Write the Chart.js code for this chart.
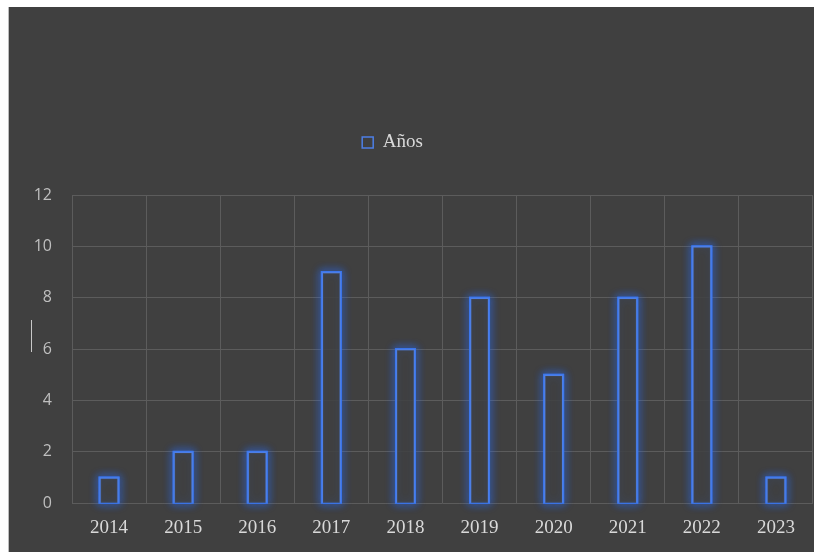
<!DOCTYPE html>
<html>
<head>
<meta charset="utf-8">
<script src="https://cdn.jsdelivr.net/npm/chart.js@4"></script>
<style>
  html, body { margin: 0; padding: 0; background: #ffffff; }
  #frame {
    position: absolute; left: 8px; top: 7px; width: 806px; height: 545px;
    background: #404040; border-left: 1px solid #bdbdbd; box-sizing: border-box;
  }
  #wrap { position: absolute; left: 1px; top: 0; width: 805px; height: 545px; }
  #caret { position: absolute; left: 22px; top: 313px; width: 1px; height: 32px; background: #c8c8c8; }
</style>
</head>
<body>
<div id="frame">
  <div id="wrap"><canvas id="chart"></canvas></div>
  <div id="caret"></div>
</div>
<script>
const years = ['2014', '2015', '2016', '2017', '2018', '2019', '2020', '2021', '2022', '2023'];
const counts = [1, 2, 2, 9, 6, 8, 5, 8, 10, 1];
const seriesName = 'Años';

// soft blue glow around the bar outlines (bar elements clip to themselves,
// so stroke a blurred outline from each element's own geometry first)
const glow = {
    id: 'glow',
    beforeDatasetDraw(chart, args) {
        const ctx = chart.ctx;
        ctx.save();
        ctx.shadowColor = 'rgba(40, 110, 255, 1)';
        ctx.shadowBlur = 8;
        ctx.strokeStyle = 'rgba(60, 120, 240, 0.9)';
        ctx.lineWidth = 2;
        args.meta.data.forEach((bar) => {
            const p = bar.getProps(['x', 'y', 'base', 'width'], true);
            const top = Math.min(p.y, p.base);
            const h = Math.abs(p.base - p.y);
            ctx.strokeRect(p.x - p.width / 2, top, p.width, h);
            ctx.strokeRect(p.x - p.width / 2, top, p.width, h);
        });
        ctx.restore();
    }
};

// extra room under the legend, and nudge it a bit left like the original
const legendSpace = {
    id: 'legendSpace',
    beforeInit(chart) {
        const fit = chart.legend.fit;
        chart.legend.fit = function () {
            fit.bind(chart.legend)();
            this.height += 33;
        };
    },
    afterLayout(chart) {
        chart.legend.left -= 19;
        chart.legend.right -= 19;
    }
};

const ctx = document.getElementById('chart').getContext('2d');
new Chart(ctx, {
    type: 'bar',
    data: {
        labels: years,
        datasets: [{
            label: seriesName,
            data: counts,
            backgroundColor: 'rgba(64, 64, 64, 0.85)',
            borderColor: '#4d7fe6',
            borderWidth: 1.5,
            barThickness: 19
        }]
    },
    options: {
        responsive: true,
        maintainAspectRatio: false,
        animation: false,
        layout: { padding: { top: 122, right: 2, bottom: 0, left: 0 } },
        plugins: {
            legend: {
                position: 'top',
                labels: {
                    color: '#d9d9d9',
                    font: { family: '"Liberation Serif", "Times New Roman", serif', size: 19 },
                    boxWidth: 11,
                    boxHeight: 11,
                    padding: 4
                }
            },
            tooltip: { enabled: false }
        },
        scales: {
            x: {
                grid: { color: '#5c5c5c', drawTicks: false, offset: true },
                border: { display: false },
                ticks: {
                    color: '#d9d9d9',
                    font: { family: '"Liberation Serif", "Times New Roman", serif', size: 19 },
                    padding: 13
                }
            },
            y: {
                min: 0,
                max: 12,
                afterFit(scale) { scale.width = 62; },
                grid: { color: '#5c5c5c', drawTicks: false },
                border: { display: false },
                ticks: {
                    stepSize: 2,
                    color: '#bfbfbf',
                    font: { family: '"Open Sans", "Noto Sans", sans-serif', size: 16 },
                    padding: 20
                }
            }
        }
    },
    plugins: [glow, legendSpace]
});
</script>
</body>
</html>
